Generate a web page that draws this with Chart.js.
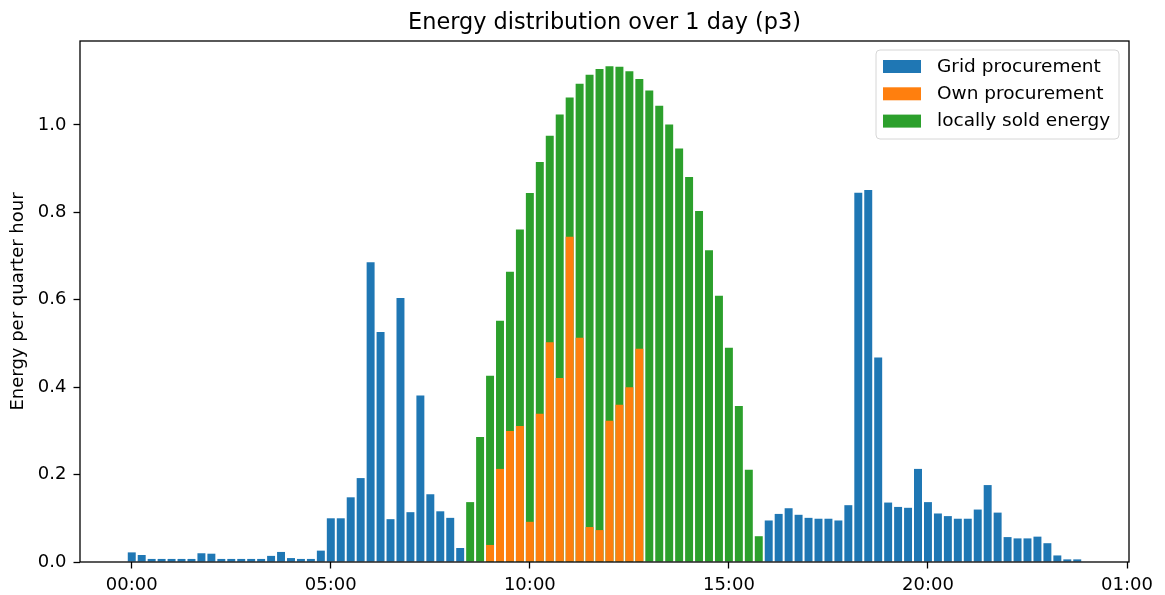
<!DOCTYPE html>
<html>
<head>
<meta charset="utf-8">
<script src="https://cdn.jsdelivr.net/npm/chart.js@4/dist/chart.umd.min.js"></script>
<style>
  html, body { margin: 0; padding: 0; background: #fff; }
  #wrap { width: 1165px; height: 595px; }
</style>
</head>
<body>
<div id="wrap"><canvas id="c" width="1165" height="595"></canvas></div>
<script>
// ---- Data (quarter-hour slots, 00:00 .. 23:45) ----
const slotHours = Array.from({ length: 96 }, (_, i) => i / 4);

const gridProcurement = [
  0.022, 0.016, 0.007, 0.007, 0.007, 0.007, 0.007, 0.020,
  0.019, 0.007, 0.007, 0.007, 0.007, 0.007, 0.014, 0.023,
  0.009, 0.007, 0.007, 0.026, 0.100, 0.100, 0.148, 0.192,
  0.686, 0.526, 0.098, 0.604, 0.114, 0.381, 0.155, 0.116,
  0.101, 0.032, null, null, null, null, null, null,
  null, null, null, null, null, null, null, null,
  null, null, null, null, null, null, null, null,
  null, null, null, null, null, null, null, null,
  0.095, 0.110, 0.123, 0.108, 0.101, 0.099, 0.099, 0.095,
  0.130, 0.845, 0.851, 0.468, 0.136, 0.126, 0.124, 0.213,
  0.137, 0.111, 0.105, 0.099, 0.099, 0.120, 0.176, 0.113,
  0.057, 0.054, 0.054, 0.058, 0.043, 0.015, 0.006, 0.006
];

const ownProcurement = [
  null, null, null, null, null, null, null, null,
  null, null, null, null, null, null, null, null,
  null, null, null, null, null, null, null, null,
  null, null, null, null, null, null, null, null,
  null, null, null, null, 0.039, 0.213, 0.300, 0.311,
  0.092, 0.339, 0.503, 0.421, 0.744, 0.513, 0.080, 0.073,
  0.323, 0.360, 0.400, 0.488, null, null, null, null,
  null, null, null, null, null, null, null, null,
  null, null, null, null, null, null, null, null,
  null, null, null, null, null, null, null, null,
  null, null, null, null, null, null, null, null,
  null, null, null, null, null, null, null, null
];

// visible top of the green bars (green drawn behind orange)
const locallySold = [
  null, null, null, null, null, null, null, null,
  null, null, null, null, null, null, null, null,
  null, null, null, null, null, null, null, null,
  null, null, null, null, null, null, null, null,
  null, null, 0.137, 0.286, 0.426, 0.552, 0.664, 0.761,
  0.844, 0.915, 0.975, 1.024, 1.063, 1.094, 1.115, 1.128,
  1.134, 1.133, 1.123, 1.105, 1.079, 1.044, 1.001, 0.946,
  0.881, 0.803, 0.713, 0.609, 0.490, 0.357, 0.211, 0.059,
  null, null, null, null, null, null, null, null,
  null, null, null, null, null, null, null, null,
  null, null, null, null, null, null, null, null,
  null, null, null, null, null, null, null, null
];

const xTickValues = [0, 5, 10, 15, 20, 25];
const xTickLabels = ['00:00', '05:00', '10:00', '15:00', '20:00', '01:00'];
const yTickValues = [0.0, 0.2, 0.4, 0.6, 0.8, 1.0];

const seriesLabels = ['Grid procurement', 'Own procurement', 'locally sold energy'];
const seriesColors = ['#1f77b4', '#ff7f0e', '#2ca02c'];

const titleText = 'Energy distribution over 1 day (p3)';
const yTitleText = 'Energy per quarter hour';

// ---- Chart ----
const FONT = "'DejaVu Sans', 'Liberation Sans', sans-serif";
Chart.defaults.font.family = FONT;
Chart.defaults.color = '#000';

function toPoints(arr) {
  return slotHours.map((h, i) => ({ x: h, y: arr[i] }));
}

const decorPlugin = {
  id: 'decor',
  afterDatasetsDraw(chart) {
    const ctx = chart.ctx;
    const a = chart.chartArea;
    ctx.save();
    ctx.strokeStyle = '#000';
    ctx.lineWidth = 1.3;
    ctx.strokeRect(a.left, a.top, a.right - a.left, a.bottom - a.top);
    ctx.restore();
  },
  afterDraw(chart) {
    const ctx = chart.ctx;
    const a = chart.chartArea;
    ctx.save();
    // title
    ctx.fillStyle = '#000';
    ctx.font = '22.4px ' + FONT;
    ctx.textAlign = 'center';
    ctx.textBaseline = 'alphabetic';
    ctx.fillText(titleText, (a.left + a.right) / 2, 28.5);
    // y axis title
    ctx.save();
    ctx.translate(18, (a.top + a.bottom) / 2);
    ctx.rotate(-Math.PI / 2);
    ctx.font = '18px ' + FONT;
    ctx.textAlign = 'center';
    ctx.textBaseline = 'middle';
    ctx.fillText(yTitleText, 0, 0);
    ctx.restore();

    // legend (matplotlib style)
    const bx = a.right - 253, by = a.top + 9, bw = 243, bh = 89, r = 4;
    ctx.beginPath();
    ctx.moveTo(bx + r, by);
    ctx.lineTo(bx + bw - r, by);
    ctx.quadraticCurveTo(bx + bw, by, bx + bw, by + r);
    ctx.lineTo(bx + bw, by + bh - r);
    ctx.quadraticCurveTo(bx + bw, by + bh, bx + bw - r, by + bh);
    ctx.lineTo(bx + r, by + bh);
    ctx.quadraticCurveTo(bx, by + bh, bx, by + bh - r);
    ctx.lineTo(bx, by + r);
    ctx.quadraticCurveTo(bx, by, bx + r, by);
    ctx.closePath();
    ctx.fillStyle = 'rgba(255,255,255,0.8)';
    ctx.fill();
    ctx.strokeStyle = '#d6d6d6';
    ctx.lineWidth = 1;
    ctx.stroke();

    ctx.font = '18.5px ' + FONT;
    ctx.textAlign = 'left';
    ctx.textBaseline = 'middle';
    chart.data.datasets.forEach((ds, i) => {
      const cy = by + 16.5 + i * 27.3;
      ctx.fillStyle = ds.backgroundColor;
      ctx.fillRect(bx + 7, cy - 6.5, 38, 13);
      ctx.fillStyle = '#000';
      ctx.fillText(ds.label, bx + 61, cy + 0.5);
    });
    ctx.restore();
  }
};

new Chart(document.getElementById('c'), {
  type: 'bar',
  data: {
    datasets: [
      { label: seriesLabels[0], data: toPoints(gridProcurement), backgroundColor: seriesColors[0] },
      { label: seriesLabels[1], data: toPoints(ownProcurement), backgroundColor: seriesColors[1] },
      { label: seriesLabels[2], data: toPoints(locallySold), backgroundColor: seriesColors[2] }
    ]
  },
  options: {
    responsive: false,
    animation: false,
    devicePixelRatio: 1,
    datasets: {
      bar: { grouped: false, barPercentage: 0.8, categoryPercentage: 1.0, borderWidth: 0 }
    },
    layout: { padding: { left: 0, top: 41, right: 36, bottom: 0 } },
    plugins: {
      legend: { display: false },
      title: { display: false },
      tooltip: { enabled: false }
    },
    scales: {
      x: {
        type: 'linear',
        min: -1.3,
        max: 25.05,
        offset: false,
        afterBuildTicks(scale) {
          scale.ticks = xTickValues.map(v => ({ value: v }));
        },
        afterFit(scale) { scale.height = 33; },
        ticks: {
          autoSkip: false,
          maxRotation: 0,
          padding: 6,
          font: { size: 18 },
          color: '#000',
          callback(value) {
            const k = xTickValues.indexOf(value);
            return k >= 0 ? xTickLabels[k] : '';
          }
        },
        grid: {
          offset: false,
          drawOnChartArea: false,
          drawTicks: true,
          tickLength: 6.5,
          tickWidth: 1.3,
          tickColor: '#000'
        },
        border: { display: false }
      },
      y: {
        type: 'linear',
        min: 0,
        max: 1.192,
        stacked: false,
        afterBuildTicks(scale) {
          scale.ticks = yTickValues.map(v => ({ value: v }));
        },
        afterFit(scale) { scale.width = 80; },
        ticks: {
          padding: 7,
          font: { size: 18 },
          color: '#000',
          callback(value) { return Number(value).toFixed(1); }
        },
        grid: {
          offset: false,
          drawOnChartArea: false,
          drawTicks: true,
          tickLength: 6.5,
          tickWidth: 1.3,
          tickColor: '#000'
        },
        border: { display: false }
      }
    }
  },
  plugins: [decorPlugin]
});
</script>
</body>
</html>
